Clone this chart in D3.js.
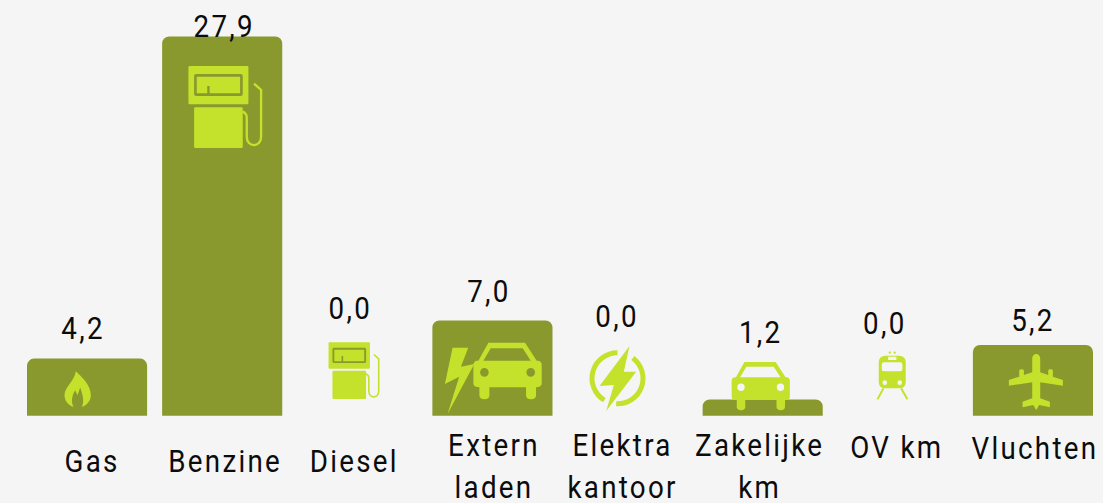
<!DOCTYPE html>
<html>
<head>
<meta charset="utf-8">
<script src="https://cdn.jsdelivr.net/npm/d3@7"></script>
<style>
  html, body { margin: 0; padding: 0; background: #f5f5f5; }
  svg { display: block; }
  text { font-family: Roboto, sans-serif; fill: #0c0c0c; letter-spacing: 2.6px; }
</style>
</head>
<body>
<div id="chart"></div>
<script>
// data
var categories = ["Gas", "Benzine", "Diesel", "Extern laden", "Elektra kantoor", "Zakelijke km", "OV km", "Vluchten"];
var values = [4.2, 27.9, 0.0, 7.0, 0.0, 1.2, 0.0, 5.2];
var labelLines = [["Gas"], ["Benzine"], ["Diesel"], ["Extern", "laden"], ["Elektra", "kantoor"], ["Zakelijke", "km"], ["OV km"], ["Vluchten"]];

// layout, labels were placed by hand in the original
var valueDx = [-4, 2, -7, -3.5, -10.5, -2, -13, 0];
var valueBase = [339, 37, 319, 302, 327, 343, 334, 331];
var labelDx = [5, 3, -3, 1.5, -5, -3, -1, 2];
var labelBase = [472, 472, 472, 456, 456, 456, 458, 459];
var lineGap = 42;

var width = 1103, height = 503;
var barColor = "#8a992d", iconColor = "#c4e12c";
var fontSize = 31.5, squeeze = 0.88;

var svg = d3.select("#chart").append("svg").attr("width", width).attr("height", height);
svg.append("rect").attr("width", width).attr("height", height).attr("fill", "#f5f5f5");

var x = d3.scaleBand().domain(categories).range([19.5, 1100.5]).paddingInner(1 / 9).paddingOuter(1 / 18);
var y = d3.scaleLinear().domain([0, 27.9]).range([415.7, 36.5]);

function barPath(d, i) {
    var x0 = x(categories[i]), x1 = x0 + x.bandwidth(), top = y(d), base = y(0);
    var r = Math.min(7, base - top);
    var p = d3.path();
    p.moveTo(x0, base);
    p.lineTo(x0, top + r);
    p.arcTo(x0, top, x0 + r, top, r);
    p.lineTo(x1 - r, top);
    p.arcTo(x1, top, x1, top + r, r);
    p.lineTo(x1, base);
    p.closePath();
    return p.toString();
}

svg.selectAll("path.bar")
    .data(values)
    .enter()
    .append("path")
    .attr("class", "bar")
    .attr("fill", barColor)
    .attr("d", barPath);

/*** iconen, getekend in 3x pixels (zoals uitgezoomd) ***/
function pump(g) {
    g.append("rect").attr("x", 0).attr("y", 0).attr("width", 180).attr("height", 115).attr("rx", 4).attr("fill", iconColor);
    g.append("rect").attr("x", 21).attr("y", 28).attr("width", 138).attr("height", 58).attr("rx", 2)
        .attr("fill", "none").attr("stroke", barColor).attr("stroke-width", 8);
    g.append("line").attr("x1", 60).attr("x2", 60).attr("y1", 60).attr("y2", 86)
        .attr("stroke", barColor).attr("stroke-width", 7);
    g.append("rect").attr("x", 17).attr("y", 124).attr("width", 146).attr("height", 122).attr("rx", 4).attr("fill", iconColor);
    g.append("path").attr("fill", "none").attr("stroke", iconColor).attr("stroke-width", 7)
        .attr("d", "M163,137 Q175,143 175,155 L175,212 C175,246 218,246 218,212 L218,72 L197,53");
}
function flame(g) {
    g.append("path").attr("fill", iconColor)
        .attr("d", "M34,0 C52,17 79,42 79,72 C79,89 67,102 52,107 C59,92 57,77 47,49 L39,72 L32,57 C22,72 19,92 27,107 C10,102 0,87 0,72 C0,47 29,32 34,0Z");
}
function car(g) {
    g.append("path").attr("fill", iconColor).attr("fill-rule", "evenodd")
        .attr("d", "M45,0 L155,0 L190,54 L195,54 Q205,56 205,68 L205,122 Q205,134 188,134 L188,158 Q188,170 173,170 Q158,170 158,158 L158,134 L48,134 L48,158 Q48,170 33,170 Q18,170 18,158 L18,134 Q0,134 0,122 L0,68 Q0,56 10,54 L15,54 Z M52,17 L30,54 L172,54 L148,17 Z M46,89 A13,13 0 1 0 20,89 A13,13 0 1 0 46,89 Z M185,89 A13,13 0 1 0 159,89 A13,13 0 1 0 185,89 Z");
}
function bolt(g) {
    g.append("path").attr("fill", iconColor)
        .attr("d", "M23,0 L70,0 L48,57 L88,49 L8,199 L43,87 L0,109 Z");
}
function powerBolt(g) {
    var arc = d3.arc().innerRadius(69).outerRadius(84);
    var rad = Math.PI / 180;
    g.append("path").attr("fill", iconColor).attr("transform", "translate(84,97)")
        .attr("d", arc({ startAngle: 37 * rad, endAngle: 183 * rad }));
    g.append("path").attr("fill", iconColor).attr("transform", "translate(84,97)")
        .attr("d", arc({ startAngle: 211 * rad, endAngle: 360 * rad }));
    g.append("path").attr("fill", iconColor)
        .attr("d", "M120,0 L103,77 L140,77 L50,195 L73,117 L30,120 Z");
}
function train(g) {
    g.append("circle").attr("cx", 33).attr("cy", -9).attr("r", 3.5).attr("fill", iconColor);
    g.append("circle").attr("cx", 48).attr("cy", -9).attr("r", 3.5).attr("fill", iconColor);
    g.append("path").attr("fill", iconColor).attr("fill-rule", "evenodd")
        .attr("d", "M18,0 L63,0 Q81,2 81,20 L81,78 Q81,98 60,98 L21,98 Q0,98 0,78 L0,20 Q0,2 18,0 Z M28,3 L28,13 L53,13 L53,3 Z M16,20 Q9,20 9,27 L9,40 Q9,47 16,47 L64,47 Q71,47 71,40 L71,27 Q71,20 64,20 Z M25,81 A7,7 0 1 0 11,81 A7,7 0 1 0 25,81 Z M70,81 A7,7 0 1 0 56,81 A7,7 0 1 0 70,81 Z");
    g.append("path").attr("fill", "none").attr("stroke", iconColor).attr("stroke-width", 6)
        .attr("d", "M14,98 L-4,131 M67,98 L86,131");
}
function plane(g) {
    g.append("path").attr("fill", iconColor)
        .attr("d", "M82,0 C90,0 94,8 94,14 L94,55 L118,63 L118,50 Q118,46 125,46 Q132,46 132,50 L132,68 L162,78 L162,95 L94,85 L94,133 L123,143 L123,160 L91,153 L82,168 L73,153 L41,160 L41,143 L70,133 L70,85 L0,95 L0,78 L31,68 L31,50 Q31,46 38,46 Q45,46 45,50 L45,63 L70,55 L70,14 C70,8 74,0 82,0Z");
}

// icon, positie t.o.v. band links / nullijn, schaal
var iconList = [
    { cat: 0, draw: flame, dx: 37.5, dy: -44.5, s: 1 / 3 },
    { cat: 1, draw: pump, dx: 26.3, dy: -349.7, s: 1 / 3 },
    { cat: 2, draw: pump, dx: 31.3, dy: -73.4, s: 0.23 },
    { cat: 3, draw: bolt, dx: 12.5, dy: -68, s: 1 / 3 },
    { cat: 3, draw: car, dx: 41, dy: -73, s: 1 / 3 },
    { cat: 4, draw: powerBolt, dx: 22, dy: -69.7, s: 1 / 3 },
    { cat: 5, draw: car, dx: 29, dy: -53.7, s: 0.284 },
    { cat: 6, draw: train, dx: 41, dy: -60, s: 1 / 3 },
    { cat: 7, draw: plane, dx: 36, dy: -61.7, s: 1 / 3 }
];

iconList.forEach(function (ic) {
    var g = svg.append("g")
        .attr("transform", "translate(" + (x(categories[ic.cat]) + ic.dx) + "," + (y(0) + ic.dy) + ") scale(" + ic.s + ")");
    ic.draw(g);
});

/*** teksten ***/
function place(px, py) {
    return "translate(" + px + "," + py + ") scale(" + squeeze + ",1)";
}

svg.selectAll("text.value")
    .data(values)
    .enter()
    .append("text")
    .attr("class", "value")
    .attr("text-anchor", "middle")
    .attr("font-size", fontSize)
    .attr("transform", function (d, i) {
        return place(x(categories[i]) + x.bandwidth() / 2 + valueDx[i], valueBase[i]);
    })
    .text(function (d) { return d3.format(".1f")(d).replace(".", ","); });

labelLines.forEach(function (lines, i) {
    lines.forEach(function (line, j) {
        svg.append("text")
            .attr("text-anchor", "middle")
            .attr("font-size", fontSize)
            .attr("transform", place(x(categories[i]) + x.bandwidth() / 2 + labelDx[i], labelBase[i] + j * lineGap))
            .text(line);
    });
});
</script>
</body>
</html>
